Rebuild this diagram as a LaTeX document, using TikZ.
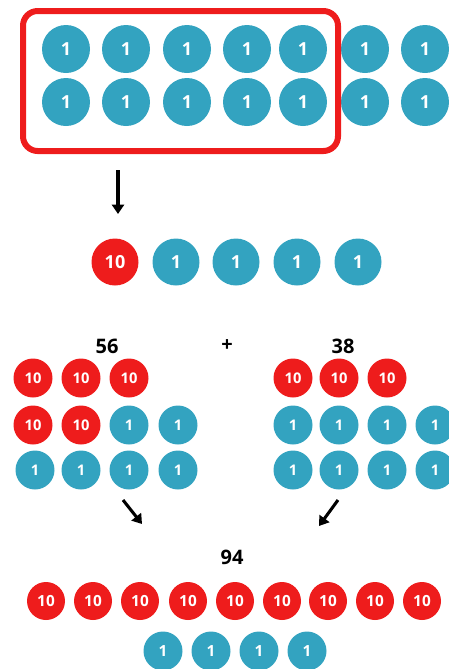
\documentclass[tikz,border=0pt]{standalone}
\usepackage{fontspec}
\setmainfont{Open Sans}
\usetikzlibrary{arrows.meta}
\definecolor{teal1}{HTML}{33A3C0}
\definecolor{red1}{HTML}{EE1C1C}
\tikzset{
  one/.style={circle,fill=teal1,text=white,inner sep=0pt,minimum size=#1,font=\bfseries\fontsize{13.5}{13.5}\selectfont},
  ten/.style={circle,fill=red1,text=white,inner sep=0pt,minimum size=#1,font=\bfseries\fontsize{13.5}{13.5}\selectfont},
  small/.style={font=\bfseries\fontsize{11}{11}\selectfont},
  mid/.style={font=\bfseries\fontsize{11.5}{11.5}\selectfont},
  lbl/.style={font=\bfseries\fontsize{15}{15}\selectfont,text=black},
  arr/.style={-{Triangle[length=7pt,width=9pt]},line width=2.3pt,black},
  frame/.style={draw=red1,line width=4.5pt,rounded corners=11pt}
}
\begin{document}
\begin{tikzpicture}[x=0.75pt,y=-0.75pt]
\useasboundingbox (0,0) rectangle (449,669);
% top group
\foreach \x [count=\i] in {66,126,187,247,303,365,425}{
  \node[one=36pt] (ta\i) at (\x,49) {1};
  \node[one=36pt] (tb\i) at (\x,102) {1};
}
\coordinate (bx1) at (23,11);
\coordinate (bx2) at (338,151);
\draw[frame] (bx1) rectangle (bx2);
\coordinate (a1s) at (118,170);
\coordinate (a1e) at (118,214);
\draw[arr] (a1s) -- (a1e);
% result row
\node[ten=35.25pt] (r10) at (115,262) {10};
\foreach \x [count=\i] in {176,236,297,358}{
  \node[one=35.25pt] (r1\i) at (\x,262) {1};
}
% addition
\node[lbl] (n56) at (107,346) {56};
\node[lbl] (plus) at (227,346) {+};
\node[lbl] (n38) at (343,346) {38};
\foreach \x [count=\i] in {33,81,129}{
  \node[ten=29.25pt,small] (l1\i) at (\x,378) {10};
}
\node[ten=29.25pt,small] (l21) at (33,425) {10};
\node[ten=29.25pt,small] (l22) at (81,425) {10};
\node[one=29.25pt,small] (l23) at (129,425) {1};
\node[one=29.25pt,small] (l24) at (178,425) {1};
\foreach \x [count=\i] in {35,81,129,178}{
  \node[one=29.25pt,small] (l3\i) at (\x,470) {1};
}
\foreach \x [count=\i] in {293,339,387}{
  \node[ten=29.25pt,small] (q1\i) at (\x,378) {10};
}
\foreach \x [count=\i] in {293,339,387,435}{
  \node[one=29.25pt,small] (q2\i) at (\x,425) {1};
  \node[one=29.25pt,small] (q3\i) at (\x,470) {1};
}
\coordinate (a2s) at (123,500);
\coordinate (a2e) at (142,524);
\draw[arr] (a2s) -- (a2e);
\coordinate (a3s) at (338,500);
\coordinate (a3e) at (319,526);
\draw[arr] (a3s) -- (a3e);
% sum
\node[lbl] (n94) at (232,557) {94};
\foreach \x [count=\i] in {46,93,140,188,235,282,328,375,422}{
  \node[ten=28.5pt,mid] (s\i) at (\x,601) {10};
}
\foreach \x [count=\i] in {163,211,259,307}{
  \node[one=29.25pt,mid] (u\i) at (\x,651) {1};
}
\end{tikzpicture}
\end{document}
